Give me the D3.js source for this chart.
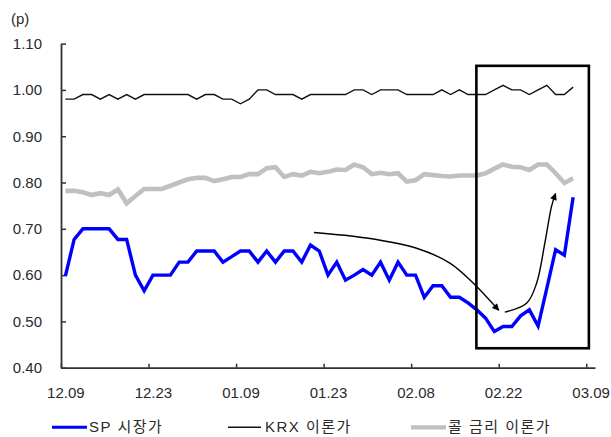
<!DOCTYPE html>
<html>
<head>
<meta charset="utf-8">
<script src="https://cdn.jsdelivr.net/npm/d3@7"></script>
<style>
  html, body { margin: 0; padding: 0; background: #fff; }
  svg { display: block; }
  text { font-family: "Liberation Sans", Arial, "Noto Sans CJK KR", sans-serif; fill: #2a2a2a; }
</style>
</head>
<body>
<svg id="chart" width="611" height="437"></svg>
<script>
// Daily spread values (p), one entry per trading day from 12.09 onward
const spMarket = [0.598,0.677,0.700,0.700,0.700,0.700,0.677,0.677,0.600,0.566,
  0.600,0.600,0.600,0.628,0.628,0.652,0.652,0.652,0.628,0.640,
  0.652,0.652,0.628,0.652,0.628,0.652,0.652,0.628,0.665,0.652,
  0.600,0.628,0.589,0.600,0.612,0.600,0.628,0.589,0.628,0.600,
  0.600,0.552,0.577,0.577,0.552,0.552,0.540,0.525,0.507,0.478,
  0.489,0.489,0.512,0.525,0.490,0.572,0.655,0.643,0.768];
const krxTheory = [0.98,0.98,0.99,0.99,0.98,0.99,0.98,0.99,0.98,0.99,
  0.99,0.99,0.99,0.99,0.99,0.98,0.99,0.99,0.98,0.98,
  0.97,0.98,1.00,1.00,0.99,0.99,0.99,0.98,0.99,0.99,
  0.99,0.99,0.99,1.00,1.00,0.99,1.00,1.00,1.00,0.99,
  0.99,0.99,0.99,1.00,0.99,1.00,0.99,0.99,0.99,1.00,
  1.01,1.00,1.00,0.99,1.00,1.01,0.99,0.99,1.006];
const callTheory = [0.782,0.782,0.779,0.773,0.777,0.773,0.785,0.755,0.771,0.786,
  0.786,0.786,0.793,0.800,0.807,0.810,0.810,0.803,0.807,0.812,
  0.812,0.818,0.818,0.831,0.833,0.812,0.818,0.815,0.823,0.820,
  0.823,0.828,0.827,0.839,0.833,0.818,0.821,0.818,0.820,0.802,
  0.805,0.818,0.816,0.814,0.813,0.815,0.815,0.815,0.820,0.830,
  0.839,0.834,0.833,0.827,0.839,0.839,0.820,0.799,0.809];

// Category axis: 61 day slots, a labelled tick every 10 slots
const categoryCount = 61;
const tickEvery = 10;
const tickLabels = ["12.09","12.23","01.09","01.23","02.08","02.22","03.09"];
const yTicks = [0.40,0.50,0.60,0.70,0.80,0.90,1.00,1.10];

const seriesNames = ["SP 시장가", "KRX 이론가", "콜 금리 이론가"];
const seriesColors = ["#0000ff", "#111111", "#c0c0c0"];
const seriesWidths = [3.4, 1.4, 4.6];

// Highlight box and trend arrows, given in (slot, value) coordinates
const boxSlots = [47.45, 60.3];
const boxValues = [0.442, 1.052];
const arrowDown = [[28.89,0.692],[34.91,0.680],[40.62,0.658],[44.42,0.626],[47.08,0.583],[50.0,0.524]];
const arrowUp = [[50.70,0.520],[53.18,0.539],[54.32,0.582],[55.27,0.669],[56.03,0.748],[56.50,0.776]];

const svg = d3.select("#chart");
const x = d3.scaleLinear().domain([0, categoryCount]).range([61, 595]);
const y = d3.scaleLinear().domain([0.4, 1.1]).range([367.7, 43.6]);
const slotW = x(1) - x(0);

// arrow marker
svg.append("defs").append("marker")
  .attr("id", "head").attr("viewBox", "0 0 10 10")
  .attr("refX", 9).attr("refY", 5)
  .attr("markerWidth", 8).attr("markerHeight", 7)
  .attr("markerUnits", "userSpaceOnUse")
  .attr("orient", "auto")
  .append("path").attr("d", "M0,0 L10,5 L0,10 Z").attr("fill", "#000");

// y axis
const yAxis = svg.append("g").attr("transform", `translate(${x(0)},0)`)
  .call(d3.axisLeft(y).tickValues(yTicks).tickSize(-5).tickSizeOuter(0)
    .tickPadding(19).tickFormat(d3.format(".2f")));
yAxis.select(".domain").attr("stroke", "#333").attr("stroke-width", 1.8);
yAxis.selectAll(".tick line").attr("stroke", "#333").attr("stroke-width", 1.5);
yAxis.selectAll("text").attr("font-size", 15).attr("fill", "#2a2a2a");

// x axis
const xTickVals = tickLabels.map((_, i) => i * tickEvery);
const xAxis = svg.append("g").attr("transform", `translate(0,${y(0.4)})`)
  .call(d3.axisBottom(x).tickValues(xTickVals).tickSize(-4).tickSizeOuter(0)
    .tickPadding(19.4).tickFormat((d, i) => tickLabels[i]));
xAxis.select(".domain").attr("stroke", "#333").attr("stroke-width", 1.8);
xAxis.selectAll(".tick line").attr("stroke", "#333").attr("stroke-width", 1.5);
xAxis.selectAll("text").attr("font-size", 15).attr("fill", "#2a2a2a")
  .attr("x", slotW / 2);

// unit label
svg.append("text").attr("x", 11).attr("y", 24).attr("font-size", 15).text("(p)");

// series lines
const line = d3.line().x((d, i) => x(i + 0.5)).y(d => y(d));
const allSeries = [callTheory, krxTheory, spMarket];
const order = [2, 1, 0];
allSeries.forEach((s, k) => {
  const idx = order[k];
  svg.append("path").datum(s)
    .attr("fill", "none")
    .attr("stroke", seriesColors[idx])
    .attr("stroke-width", seriesWidths[idx])
    .attr("stroke-linejoin", "miter")
    .attr("d", line);
});

// highlight box
svg.append("rect")
  .attr("x", x(boxSlots[0])).attr("y", y(boxValues[1]))
  .attr("width", x(boxSlots[1]) - x(boxSlots[0]))
  .attr("height", y(boxValues[0]) - y(boxValues[1]))
  .attr("fill", "none").attr("stroke", "#000").attr("stroke-width", 2.6);

// trend arrows
const arrowLine = d3.line().x(d => x(d[0])).y(d => y(d[1])).curve(d3.curveCatmullRom);
[arrowDown, arrowUp].forEach(a => {
  svg.append("path").datum(a)
    .attr("fill", "none").attr("stroke", "#000").attr("stroke-width", 1.4)
    .attr("marker-end", "url(#head)")
    .attr("d", arrowLine);
});

// legend
const legendItems = [
  {x0: 52, x1: 87, tx: 89},
  {x0: 228, x1: 261, tx: 265},
  {x0: 411, x1: 446, tx: 448}
];
legendItems.forEach((it, i) => {
  svg.append("line")
    .attr("x1", it.x0).attr("x2", it.x1).attr("y1", 427.3).attr("y2", 427.3)
    .attr("stroke", seriesColors[i])
    .attr("stroke-width", i === 2 ? 4.2 : (i === 0 ? 3 : 1.4));
  svg.append("text").attr("x", it.tx).attr("y", 432).attr("font-size", 15)
    .attr("letter-spacing", "1.5px")
    .text(seriesNames[i]);
});
</script>
</body>
</html>
